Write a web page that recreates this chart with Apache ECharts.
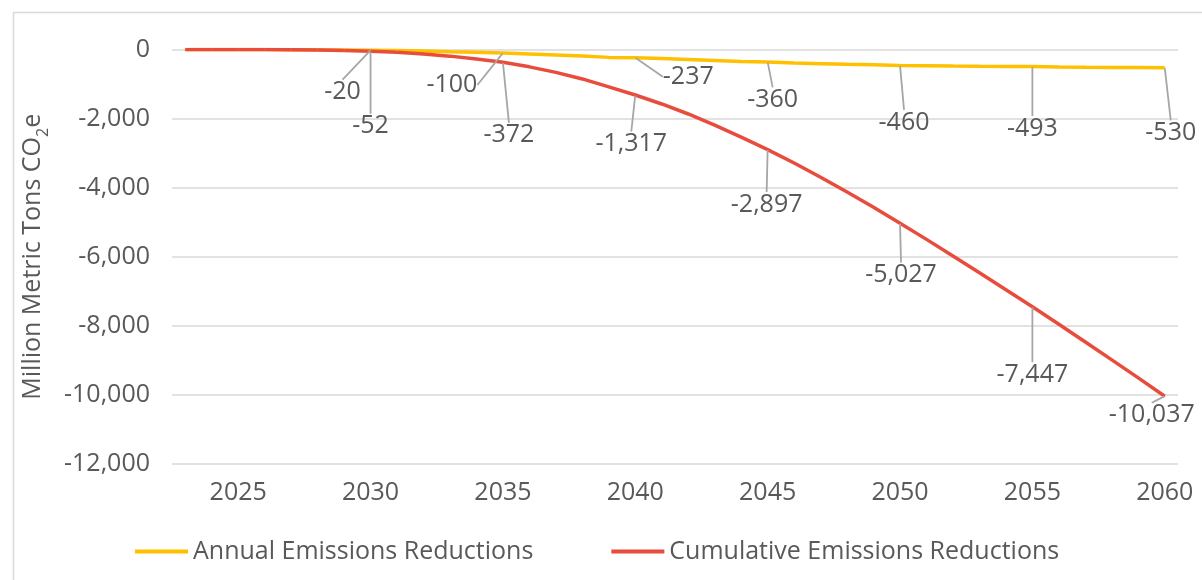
<!DOCTYPE html>
<html>
<head>
<meta charset="utf-8">
<script src="https://cdn.jsdelivr.net/npm/echarts@6/dist/echarts.min.js"></script>
<style>
  html, body { margin: 0; padding: 0; background: #ffffff; }
  #chart { width: 1202px; height: 580px; }
</style>
</head>
<body>
<div id="chart"></div>
<script>
// Years on the category axis
const years = [
  2023, 2024, 2025, 2026, 2027, 2028, 2029, 2030,
  2031, 2032, 2033, 2034, 2035, 2036, 2037, 2038, 2039, 2040,
  2041, 2042, 2043, 2044, 2045, 2046, 2047, 2048, 2049, 2050,
  2051, 2052, 2053, 2054, 2055, 2056, 2057, 2058, 2059, 2060
];

// Annual emissions reductions (million metric tons CO2e)
const annual = [
  0, 0, 0, -2, -5, -10, -15, -20,
  -30, -45, -65, -80, -100, -130, -160, -190, -228, -237,
  -260, -290, -320, -350, -360, -390, -410, -430, -440, -460,
  -470, -480, -487, -490, -493, -505, -515, -520, -520, -530
];

// Cumulative emissions reductions (million metric tons CO2e)
const cumulative = [
  0, 0, 0, -2, -7, -17, -32, -52,
  -82, -127, -192, -272, -372, -502, -662, -852, -1080, -1317,
  -1577, -1867, -2187, -2537, -2897, -3287, -3697, -4127, -4567, -5027,
  -5497, -5977, -6464, -6954, -7447, -7952, -8467, -8987, -9507, -10037
];

// Years that carry a value label
const labelledYears = [2030, 2035, 2040, 2045, 2050, 2055, 2060];

// Y axis ticks
const yMin = -12000;
const yMax = 0;
const yStep = 2000;

const seriesNames = ['Annual Emissions Reductions', 'Cumulative Emissions Reductions'];

// Label placement offsets (dx, dy) from each labelled point
const labelOffsets = [
  { 2030: [-28, 42], 2035: [-51, 32], 2040: [53, 19], 2045: [5, 38], 2050: [4, 57], 2055: [0, 62], 2060: [6, 65] },
  { 2030: [0, 75], 2035: [6, 73], 2040: [-4, 49], 2045: [-1, 55], 2050: [1, 52], 2055: [0, 68], 2060: [-13, 19] }
];

const textColor = '#595959';
const fontFamily = "'Open Sans', 'DejaVu Sans', sans-serif";
const fontSize = 25;
const fmt = v => Number(v).toLocaleString('en-US');

function buildData(values) {
  return values.map((v, i) => {
    const show = labelledYears.indexOf(years[i]) >= 0;
    return show ? { value: v, label: { show: true } } : v;
  });
}

function makeSeries(idx, values, color) {
  return {
    name: seriesNames[idx],
    type: 'line',
    data: buildData(values),
    symbol: 'circle',
    symbolSize: 1,
    showSymbol: true,
    itemStyle: { color: color },
    lineStyle: { color: color, width: 3.5 },
    label: {
      show: false,
      position: 'inside',
      formatter: p => fmt(p.value),
      color: textColor,
      fontSize: fontSize,
      fontFamily: fontFamily,
      padding: [3, 4, 3, 4]
    },
    labelLine: {
      show: true,
      lineStyle: { color: '#a6a6a6', width: 1.8 }
    },
    labelLayout: function (params) {
      const yr = years[params.dataIndex];
      const off = labelOffsets[idx][yr];
      if (!off) return {};
      return { dx: off[0], dy: off[1] };
    },
    emphasis: { disabled: true },
    animation: false
  };
}

const chart = echarts.init(document.getElementById('chart'), null, { renderer: 'canvas' });

chart.setOption({
  animation: false,
  backgroundColor: '#ffffff',
  graphic: [{
    type: 'rect',
    left: 11, top: 10,
    shape: { width: 1300, height: 700 },
    style: { fill: 'none', stroke: '#d9d9d9', lineWidth: 1.5 },
    silent: true,
    z: -10
  }],
  grid: { left: 172, right: 24, top: 49.5, bottom: 116, containLabel: false },
  legend: {
    data: seriesNames,
    left: 130,
    top: 534,
    icon: 'rect',
    itemWidth: 53,
    itemHeight: 4,
    itemGap: 78,
    textStyle: { color: textColor, fontSize: fontSize, fontFamily: fontFamily },
    selectedMode: false
  },
  xAxis: {
    type: 'category',
    data: years,
    boundaryGap: true,
    axisLine: { show: false },
    axisTick: { show: false },
    axisLabel: {
      interval: (index, value) => Number(value) % 5 === 0,
      color: textColor,
      fontSize: fontSize,
      fontFamily: fontFamily,
      margin: 16
    },
    splitLine: { show: false }
  },
  yAxis: {
    type: 'value',
    min: yMin,
    max: yMax,
    interval: yStep,
    name: 'Million Metric Tons CO{sub|2}e',
    nameLocation: 'middle',
    nameGap: 121,
    nameTextStyle: {
      color: textColor,
      fontSize: fontSize,
      fontFamily: fontFamily,
      lineHeight: 36,
      rich: {
        sub: { fontSize: 16, color: textColor, fontFamily: fontFamily, verticalAlign: 'bottom', lineHeight: 36 }
      }
    },
    axisLine: { show: false },
    axisTick: { show: false },
    axisLabel: {
      formatter: v => fmt(v),
      color: textColor,
      fontSize: fontSize,
      fontFamily: fontFamily,
      margin: 22
    },
    splitLine: { lineStyle: { color: '#d9d9d9', width: 1.5 } }
  },
  series: [
    makeSeries(0, annual, '#FFC000'),
    makeSeries(1, cumulative, '#E84C3D')
  ]
});
</script>
</body>
</html>
